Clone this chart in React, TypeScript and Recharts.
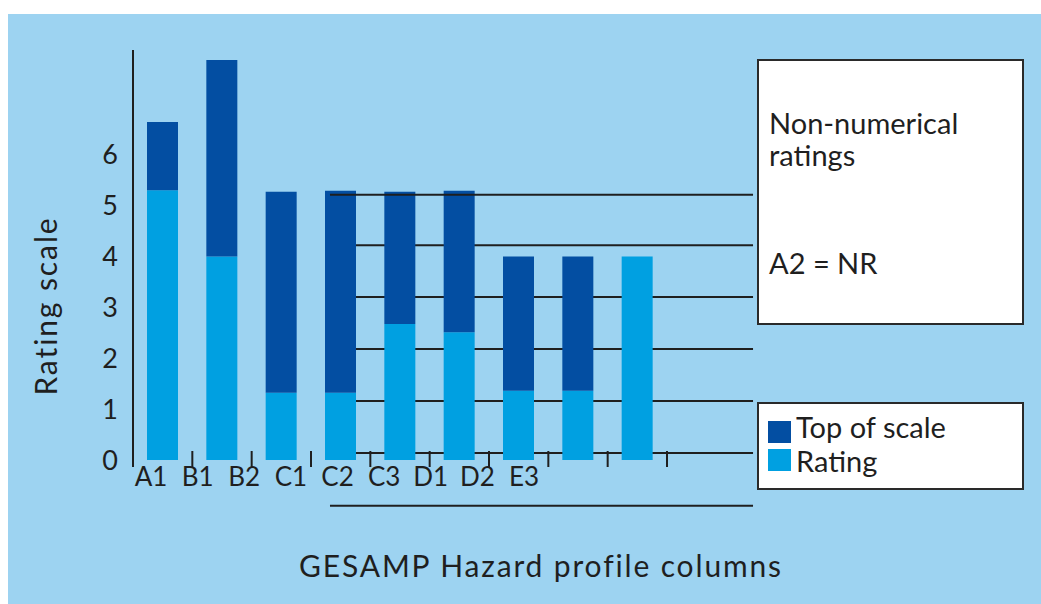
import React from 'react';
import { BarChart, Bar, XAxis, YAxis, ReferenceLine, Legend } from 'recharts';

// ---- data ----
const categories = ['A1', 'B1', 'B2', 'C1', 'C2', 'C3', 'D1', 'D2', 'E3'];
const ratingValues = [5.3, 4.0, 1.32, 1.32, 2.67, 2.51, 1.36, 1.36, 4.0];
const topOfScaleValues = [6.64, 7.86, 5.27, 5.29, 5.27, 5.29, 4.0, 4.0, 4.0];
const yTicks = [0, 1, 2, 3, 4, 5, 6];
const edgeTicks = [1, 2, 3, 4, 5, 6, 7, 8, 9];
const guideLevelsBehind = [4.22, 3.2, 2.18, 1.16, 0.14, -0.9];
const guideLevelTop = 5.21;
const guideSpan = [3.32, 10.45];

const data = categories.map((c, i) => ({
  col: c,
  pos: i + 0.5,
  rating: ratingValues[i],
  top: +(topOfScaleValues[i] - ratingValues[i]).toFixed(3),
}));

// ---- styles ----
const BG = '#9dd3f1';
const DARK = '#034ea2';
const LIGHT = '#00a0e1';
const INK = '#1f1f1f';
const FONT = 'Lato, "Noto Sans", sans-serif';

const EdgeTick = (props: any) => {
  const { x, y } = props;
  return <line x1={x} x2={x} y1={y - 16} y2={y} stroke={INK} strokeWidth={2} />;
};

const LegendContent = (props: any) => {
  const payload = [...(props.payload || [])].reverse();
  return (
    <div
      style={{
        position: 'relative',
        width: 267,
        height: 88,
        boxSizing: 'border-box',
        border: '2px solid #2a2a2a',
        background: '#fff',
        fontFamily: FONT,
        color: INK,
      }}
    >
      {payload.map((p: any, i: number) => (
        <React.Fragment key={p.value}>
          <div
            style={{
              position: 'absolute',
              left: 9,
              top: 17 + i * 28,
              width: 23,
              height: 22,
              background: p.color,
            }}
          />
          <div
            style={{
              position: 'absolute',
              left: 37,
              top: 8 + i * 34,
              fontSize: 29,
              lineHeight: 1,
              whiteSpace: 'nowrap',
            }}
          >
            {p.value}
          </div>
        </React.Fragment>
      ))}
    </div>
  );
};

export default function App() {
  return (
    <div style={{ position: 'relative', width: 1041, height: 604, overflow: 'hidden', background: '#fff' }}>
      <style>{'html,body{margin:0;padding:0;overflow:hidden;}'}</style>
      <div style={{ position: 'absolute', left: 8, top: 14, width: 1033, height: 590, background: BG }}>
        <BarChart
          width={1033}
          height={590}
          data={data}
          margin={{ top: 36, right: 374, bottom: 96, left: 65 }}
        >
          <XAxis
            dataKey="pos"
            type="number"
            domain={[0, 9]}
            ticks={edgeTicks}
            allowDataOverflow
            axisLine={false}
            tickLine={false}
            tickSize={0}
            tickMargin={0}
            height={1}
            interval={0}
            tick={<EdgeTick />}
          />
          <XAxis
            xAxisId="labels"
            dataKey="col"
            scale="point"
            padding={{ left: 18, right: 143 }}
            axisLine={false}
            tickLine={false}
            tickSize={0}
            tickMargin={0}
            height={40}
            interval={0}
            tick={{ fill: INK, fontSize: 26, fontFamily: FONT }}
          />
          <YAxis
            domain={[-0.1375, 8.055]}
            ticks={yTicks}
            allowDataOverflow
            width={60}
            interval={0}
            tickLine={false}
            tickSize={0}
            tickMargin={15}
            axisLine={{ stroke: INK, strokeWidth: 2 }}
            tick={{ fill: INK, fontSize: 27, fontFamily: FONT }}
          />
          {guideLevelsBehind.map((lvl) => (
            <ReferenceLine
              key={lvl}
              ifOverflow="visible"
              zIndex={200}
              segment={[
                { x: guideSpan[0], y: lvl },
                { x: guideSpan[1], y: lvl },
              ]}
              stroke={INK}
              strokeWidth={2}
            />
          ))}
          <Bar dataKey="rating" name="Rating" stackId="s" fill={LIGHT} barSize={31} isAnimationActive={false} />
          <Bar dataKey="top" name="Top of scale" stackId="s" fill={DARK} barSize={31} isAnimationActive={false} />
          <ReferenceLine
            ifOverflow="visible"
            zIndex={450}
            segment={[
              { x: guideSpan[0], y: guideLevelTop },
              { x: guideSpan[1], y: guideLevelTop },
            ]}
            stroke={INK}
            strokeWidth={2}
          />
          <Legend
            layout="vertical"
            align="center"
            verticalAlign="middle"
            wrapperStyle={{ left: 749, top: 388, width: 267, height: 88 }}
            content={<LegendContent />}
          />
        </BarChart>
      </div>

      {/* Y axis title */}
      <div
        style={{
          position: 'absolute',
          left: 45,
          top: 306,
          transform: 'translate(-50%, -50%) rotate(-90deg)',
          fontFamily: FONT,
          fontSize: 30,
          letterSpacing: 1.9,
          lineHeight: 1,
          whiteSpace: 'nowrap',
          color: INK,
        }}
      >
        Rating scale
      </div>

      {/* X axis title */}
      <div
        style={{
          position: 'absolute',
          left: 541,
          top: 550,
          transform: 'translateX(-50%)',
          fontFamily: FONT,
          fontSize: 30,
          letterSpacing: 1.85,
          lineHeight: 1,
          whiteSpace: 'nowrap',
          color: INK,
        }}
      >
        GESAMP Hazard profile columns
      </div>

      {/* Note box */}
      <div
        style={{
          position: 'absolute',
          left: 757,
          top: 59,
          width: 267,
          height: 266,
          boxSizing: 'border-box',
          border: '2px solid #2a2a2a',
          background: '#fff',
          fontFamily: FONT,
          color: INK,
          fontSize: 29,
        }}
      >
        <div style={{ position: 'absolute', left: 10, top: 46, lineHeight: '32px' }}>
          Non-numerical
          <br />
          ratings
        </div>
        <div style={{ position: 'absolute', left: 10, top: 187, lineHeight: 1, whiteSpace: 'nowrap' }}>
          A2 = NR
        </div>
      </div>
    </div>
  );
}
